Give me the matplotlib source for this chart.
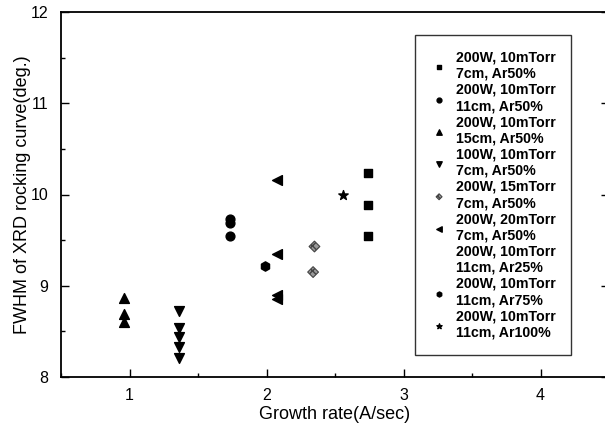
import matplotlib
matplotlib.use("Agg")
import matplotlib.pyplot as plt
from matplotlib.ticker import MultipleLocator

plt.rcParams['font.family'] = ['Liberation Sans', 'DejaVu Sans']

# growth rate (A/sec) and FWHM (deg.) for each deposition condition
labels = [
    "200W, 10mTorr\n7cm, Ar50%",
    "200W, 10mTorr\n11cm, Ar50%",
    "200W, 10mTorr\n15cm, Ar50%",
    "100W, 10mTorr\n7cm, Ar50%",
    "200W, 15mTorr\n7cm, Ar50%",
    "200W, 20mTorr\n7cm, Ar50%",
    "200W, 10mTorr\n11cm, Ar25%",
    "200W, 10mTorr\n11cm, Ar75%",
    "200W, 10mTorr\n11cm, Ar100%",
]
rate_7cm = [2.74, 2.74, 2.74]
fwhm_7cm = [10.24, 9.89, 9.55]
rate_11cm = [1.73, 1.73, 1.73]
fwhm_11cm = [9.73, 9.69, 9.55]
rate_15cm = [0.96, 0.96, 0.96]
fwhm_15cm = [8.87, 8.69, 8.60]
rate_100w = [1.36, 1.36, 1.36, 1.36, 1.36]
fwhm_100w = [8.72, 8.54, 8.44, 8.33, 8.21]
rate_15mt = [2.35, 2.34]
fwhm_15mt = [9.43, 9.15]
rate_20mt = [2.08, 2.08, 2.08, 2.08]
fwhm_20mt = [10.16, 9.35, 8.90, 8.85]
rate_ar25 = []
fwhm_ar25 = []
rate_ar75 = [1.99]
fwhm_ar75 = [9.22]
rate_ar100 = [2.56]
fwhm_ar100 = [10.00]

fig = plt.figure(figsize=(6.05, 4.3), dpi=100)
ax = fig.add_axes([61 / 605, 53 / 430, 548 / 605, 365 / 430])

series = [
    (rate_7cm, fwhm_7cm, 's', 'black', 36),
    (rate_11cm, fwhm_11cm, 'o', 'black', 40),
    (rate_15cm, fwhm_15cm, '^', 'black', 50),
    (rate_100w, fwhm_100w, 'v', 'black', 50),
    (rate_15mt, fwhm_15mt, 'D', '#9a9a9a', 30),
    (rate_20mt, fwhm_20mt, '<', 'black', 50),
    (rate_ar25, fwhm_ar25, 'o', 'none', 40),
    (rate_ar75, fwhm_ar75, 'h', 'black', 45),
    (rate_ar100, fwhm_ar100, '*', 'black', 50),
]
for (x, y, m, c, s), lab in zip(series, labels):
    if c == '#9a9a9a':
        ax.scatter(x, y, marker=m, s=s, facecolor=c, edgecolor='#444444',
                   linewidth=0.8, hatch='xxxx', label=lab)
    else:
        ax.scatter(x, y, marker=m, s=s, color=c, edgecolor=c, label=lab)

ax.set_xlim(0.5, 4.5)
ax.set_ylim(8, 12)
ax.xaxis.set_major_locator(MultipleLocator(1))
ax.xaxis.set_minor_locator(MultipleLocator(0.5))
ax.yaxis.set_major_locator(MultipleLocator(1))
ax.yaxis.set_minor_locator(MultipleLocator(0.5))
ax.tick_params(which='both', direction='in', right=True, labelsize=11.5)
ax.tick_params(which='major', length=6, width=1)
ax.tick_params(which='minor', length=3, width=1)
ax.tick_params(axis='y', pad=9)
ax.tick_params(axis='x', pad=8)
for sp in ax.spines.values():
    sp.set_linewidth(1.3)

ax.set_xlabel("Growth rate(A/sec)", fontsize=13, labelpad=2)
ax.set_ylabel("FWHM of XRD rocking curve(deg.)", fontsize=13, labelpad=0)

leg = ax.legend(loc='upper left', bbox_to_anchor=(354 / 548, 1 - 23 / 365),
                borderaxespad=0, frameon=True, fancybox=False,
                edgecolor='black', markerscale=0.55, handletextpad=0.6,
                handlelength=1.2, labelspacing=0.15, borderpad=1.1,
                prop={'weight': 'bold', 'size': 10.2})
leg.get_frame().set_linewidth(1.0)

fig.savefig("out.png", dpi=100)
